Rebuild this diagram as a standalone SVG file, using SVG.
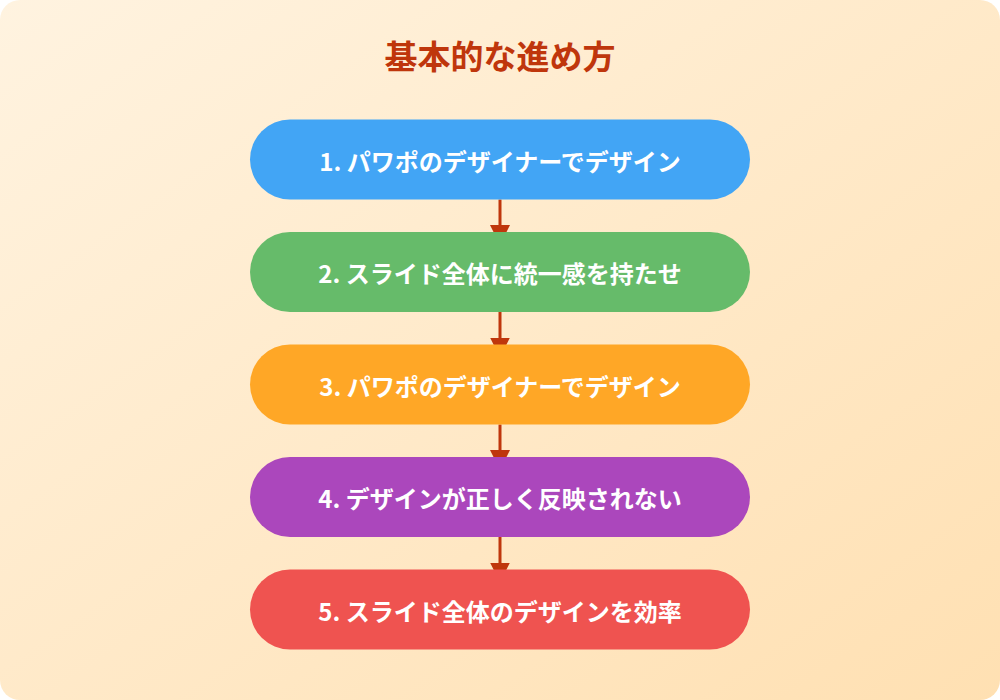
<svg xmlns="http://www.w3.org/2000/svg" width="1000" height="700" viewBox="0 0 1000 700">
  <defs>
    <linearGradient id="bg" x1="0" y1="0" x2="1" y2="1">
      <stop offset="0" stop-color="#FFF3E0"/>
      <stop offset="1" stop-color="#FFE0B2"/>
    </linearGradient>
    <marker id="arrow" markerUnits="userSpaceOnUse" markerWidth="20" markerHeight="20" refX="20" refY="10" orient="auto" viewBox="0 0 20 20">
      <path d="M0,0 L20,10 L0,20 z" fill="#BF360C"/>
    </marker>
    <style>
      .title { font-family: "Noto Sans CJK JP", "Noto Sans", sans-serif; font-size: 33px; font-weight: bold; fill: #BF360C; }
      .label { font-family: "Noto Sans CJK JP", "Noto Sans", sans-serif; font-size: 24px; font-weight: bold; fill: #FFFFFF; }
      .conn { stroke: #BF360C; stroke-width: 3; fill: none; marker-end: url(#arrow); }
    </style>
  </defs>
  <rect x="0" y="0" width="1000" height="700" fill="#FFFFFF"/>
  <rect x="0" y="0" width="1000" height="700" rx="20" ry="20" fill="url(#bg)"/>
  <text class="title" x="500" y="55" text-anchor="middle" dominant-baseline="central">基本的な進め方</text>

  <g id="connectors">
    <line class="conn" x1="500" y1="199.5" x2="500" y2="245"/>
    <line class="conn" x1="500" y1="312" x2="500" y2="357.5"/>
    <line class="conn" x1="500" y1="424.5" x2="500" y2="470"/>
    <line class="conn" x1="500" y1="537" x2="500" y2="582.5"/>
  </g>

  <g id="node1">
    <rect x="250" y="119.5" width="500" height="80" rx="40" ry="40" fill="#42A5F5"/>
    <text class="label" x="500" y="160" text-anchor="middle" dominant-baseline="central">1. パワポのデザイナーでデザイン</text>
  </g>
  <g id="node2">
    <rect x="250" y="232" width="500" height="80" rx="40" ry="40" fill="#66BB6A"/>
    <text class="label" x="500" y="272.5" text-anchor="middle" dominant-baseline="central">2. スライド全体に統一感を持たせ</text>
  </g>
  <g id="node3">
    <rect x="250" y="344.5" width="500" height="80" rx="40" ry="40" fill="#FFA726"/>
    <text class="label" x="500" y="385" text-anchor="middle" dominant-baseline="central">3. パワポのデザイナーでデザイン</text>
  </g>
  <g id="node4">
    <rect x="250" y="457" width="500" height="80" rx="40" ry="40" fill="#AB47BC"/>
    <text class="label" x="500" y="497.5" text-anchor="middle" dominant-baseline="central">4. デザインが正しく反映されない</text>
  </g>
  <g id="node5">
    <rect x="250" y="569.5" width="500" height="80" rx="40" ry="40" fill="#EF5350"/>
    <text class="label" x="500" y="610" text-anchor="middle" dominant-baseline="central">5. スライド全体のデザインを効率</text>
  </g>
</svg>
